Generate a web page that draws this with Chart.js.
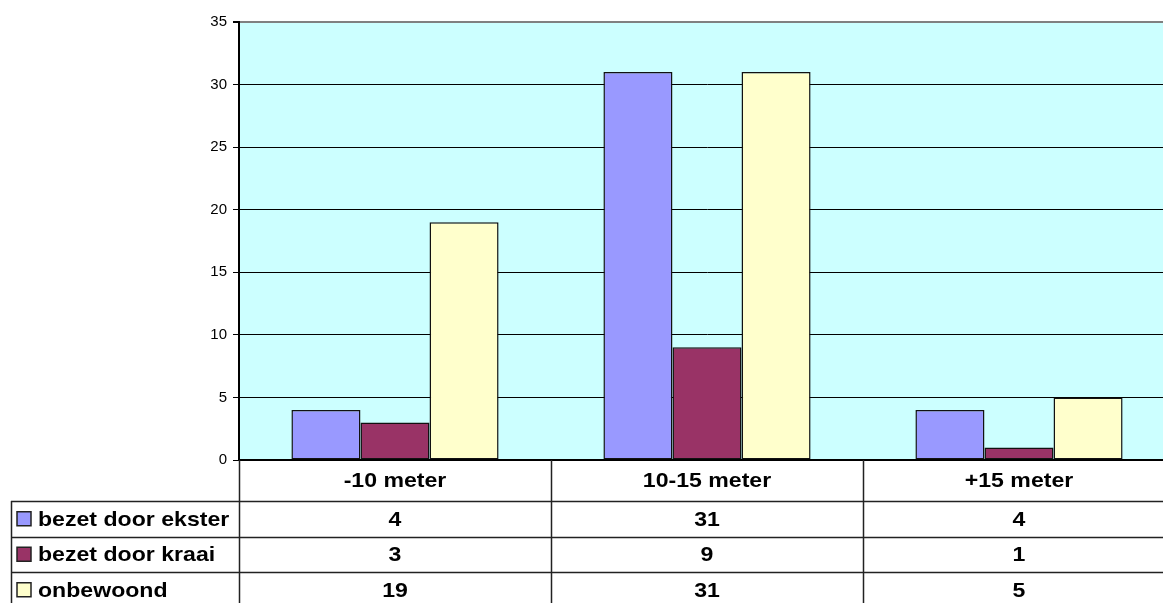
<!DOCTYPE html>
<html lang="nl">
  <head>
    <meta charset="UTF-8" />
    <title>Nesten per hoogte</title>
    <script src="https://cdn.jsdelivr.net/npm/chart.js"></script>
    <style>
      html, body {
        margin: 0;
        padding: 0;
        background: #ffffff;
        overflow: hidden;
      }
      #chart {
        display: block;
      }
    </style>
  </head>
  <body>
    <canvas id="chart" width="1180" height="603"></canvas>

    <script>
      // Data
      const categories = ["-10 meter", "10-15 meter", "+15 meter"];
      const seriesNames = ["bezet door ekster", "bezet door kraai", "onbewoond"];
      const ekster = [4, 31, 4];
      const kraai = [3, 9, 1];
      const onbewoond = [19, 31, 5];
      const yTicks = [0, 5, 10, 15, 20, 25, 30, 35];

      const colors = ["#9999FF", "#993366", "#FFFFCC"];
      const seriesValues = [ekster, kraai, onbewoond];
      const FONT = "'Liberation Sans', Arial, sans-serif";

      // plot background
      const plotBackground = {
        id: "plotBackground",
        beforeDraw(chart) {
          const { ctx, chartArea: a } = chart;
          ctx.save();
          ctx.fillStyle = "#CCFFFF";
          ctx.fillRect(a.left, a.top, a.right - a.left, a.bottom - a.top);
          ctx.restore();
        },
      };

      // the original text is rendered a bit wider than Arial, so stretch it
      function wideText(ctx, text, x, y, align) {
        const sx = 1.1;
        ctx.save();
        ctx.translate(x, y);
        ctx.scale(sx, 1);
        ctx.textAlign = align;
        ctx.fillText(text, 0, 0);
        ctx.restore();
      }

      // data table under the plot
      const dataTable = {
        id: "dataTable",
        afterDraw(chart) {
          const { ctx, chartArea: a } = chart;
          const xs = chart.scales.x;
          const n = categories.length;
          const colW = (xs.right - xs.left) / n;
          const headerBottom = a.bottom + 41;
          const rowH = 35.5;
          const tableLeft = 11;
          const bottom = chart.height + 5;

          ctx.save();
          ctx.strokeStyle = "#222";
          ctx.lineWidth = 1.5;

          // vertical lines
          ctx.beginPath();
          for (let i = 0; i <= n; i++) {
            const x = Math.round(xs.left + i * colW) + 0.5;
            ctx.moveTo(x, a.bottom);
            ctx.lineTo(x, bottom);
          }
          ctx.moveTo(tableLeft + 0.5, headerBottom);
          ctx.lineTo(tableLeft + 0.5, bottom);

          // horizontal lines
          for (let r = 0; r <= seriesNames.length; r++) {
            const y = Math.round(headerBottom + r * rowH) + 0.5;
            ctx.moveTo(tableLeft, y);
            ctx.lineTo(xs.right, y);
          }
          ctx.stroke();

          ctx.fillStyle = "#000";
          ctx.textBaseline = "middle";
          ctx.font = "bold 21px " + FONT;

          // header
          categories.forEach((c, i) => {
            wideText(ctx, c, xs.left + (i + 0.5) * colW, (a.bottom + headerBottom) / 2 + 1, "center");
          });

          // rows
          seriesNames.forEach((name, r) => {
            const cy = headerBottom + (r + 0.5) * rowH + 1;
            ctx.fillStyle = colors[r];
            ctx.fillRect(17, cy - 8, 14, 14);
            ctx.lineWidth = 1.5;
            ctx.strokeStyle = "#222";
            ctx.strokeRect(17, cy - 8, 14, 14);

            ctx.fillStyle = "#000";
            wideText(ctx, name, 38, cy, "left");

            seriesValues[r].forEach((v, i) => {
              wideText(ctx, String(v), xs.left + (i + 0.5) * colW, cy, "center");
            });
          });
          ctx.restore();
        },
      };

      new Chart(document.getElementById("chart"), {
        type: "bar",
        data: {
          labels: categories,
          datasets: seriesNames.map((name, i) => ({
            label: name,
            data: seriesValues[i],
            backgroundColor: colors[i],
            borderColor: "#111",
            borderWidth: 1.5,
            borderSkipped: false,
            barPercentage: 1,
            categoryPercentage: 0.664,
          })),
        },
        options: {
          responsive: false,
          animation: false,
          devicePixelRatio: 1,
          layout: { padding: { top: 22, right: 5, left: 0, bottom: 0 } },
          plugins: {
            legend: { display: false },
            tooltip: { enabled: false },
          },
          scales: {
            x: {
              grid: { display: false },
              ticks: { display: false },
              border: { display: true, color: "#000", width: 2 },
              afterFit(scale) {
                scale.height = 143;
              },
            },
            y: {
              min: 0,
              max: 35,
              afterBuildTicks(scale) {
                scale.ticks = yTicks.map((v) => ({ value: v }));
              },
              grid: {
                color: (c) => (c.tick && c.tick.value === 35 ? "#808080" : "#000"),
                lineWidth: (c) => (c.tick && c.tick.value === 35 ? 2 : 1),
                tickLength: 6,
                tickColor: "#000",
              },
              border: { display: true, color: "#000", width: 2 },
              ticks: {
                color: "#000",
                padding: 6,
                font: { family: FONT, size: 15 },
              },
              afterFit(scale) {
                scale.width = 239;
              },
            },
          },
        },
        plugins: [plotBackground, dataTable],
      });
    </script>
  </body>
</html>
